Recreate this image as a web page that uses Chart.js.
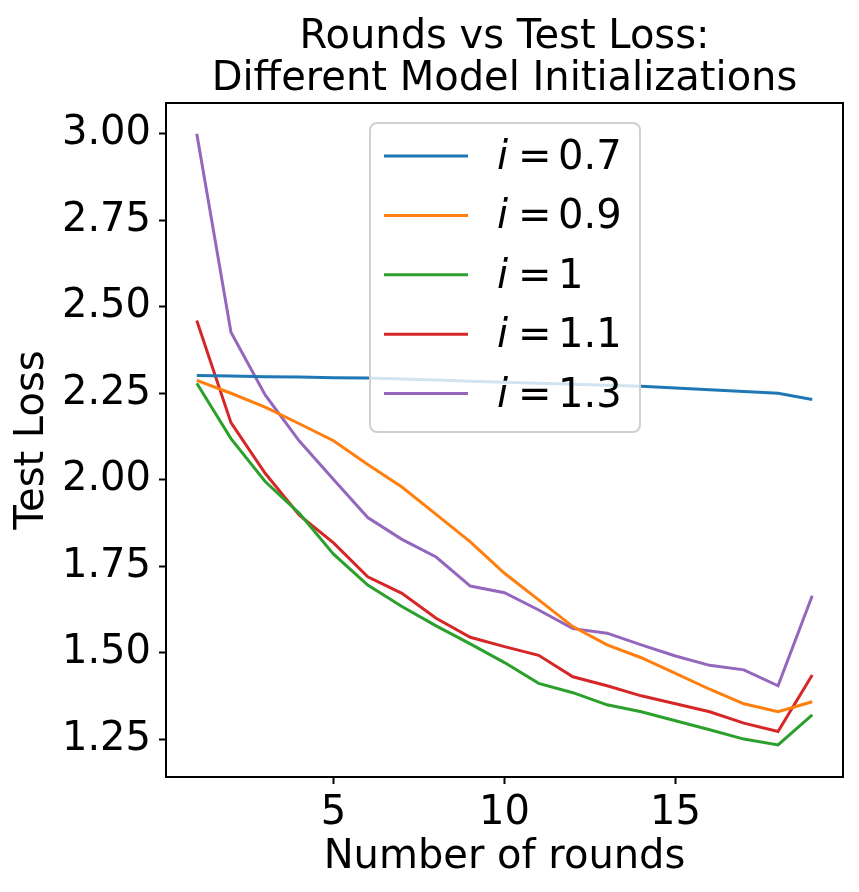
<!DOCTYPE html>
<html>
<head>
<meta charset="utf-8">
<script src="https://cdn.jsdelivr.net/npm/chart.js@4"></script>
<style>
  body { margin: 0; background: #fff; }
</style>
</head>
<body>
<canvas id="myChart" width="859" height="892"></canvas>
<script>
const rounds = [1, 2, 3, 4, 5, 6, 7, 8, 9, 10, 11, 12, 13, 14, 15, 16, 17, 18, 19];

const loss07 = [2.301, 2.300, 2.298, 2.297, 2.295, 2.294, 2.291, 2.288, 2.285, 2.282, 2.279, 2.276, 2.273, 2.270, 2.265, 2.260, 2.255, 2.250, 2.232];
const loss09 = [2.287, 2.250, 2.210, 2.162, 2.113, 2.044, 1.979, 1.900, 1.821, 1.730, 1.653, 1.576, 1.523, 1.486, 1.441, 1.395, 1.353, 1.330, 1.359];
const loss10 = [2.279, 2.119, 1.995, 1.903, 1.785, 1.696, 1.634, 1.578, 1.526, 1.472, 1.412, 1.385, 1.350, 1.330, 1.304, 1.278, 1.251, 1.234, 1.321];
const loss11 = [2.460, 2.165, 2.019, 1.898, 1.818, 1.720, 1.672, 1.600, 1.545, 1.518, 1.493, 1.431, 1.405, 1.376, 1.353, 1.330, 1.297, 1.273, 1.436];
const loss13 = [3.000, 2.426, 2.245, 2.112, 2.001, 1.891, 1.828, 1.777, 1.693, 1.674, 1.624, 1.570, 1.557, 1.523, 1.491, 1.464, 1.451, 1.405, 1.665];

const initValues = ["0.7", "0.9", "1", "1.1", "1.3"];
const xTicks = [5, 10, 15];
const yTicks = [1.25, 1.5, 1.75, 2.0, 2.25, 2.5, 2.75, 3.0];

const colors = ["#1f77b4", "#ff7f0e", "#2ca02c", "#d62728", "#9467bd"];
const series = [loss07, loss09, loss10, loss11, loss13];

const FONT = "DejaVu Sans";

// frame on all four sides, like matplotlib spines
const framePlugin = {
  id: "frame",
  afterDraw(chart) {
    const { ctx, chartArea: a } = chart;
    ctx.save();
    ctx.strokeStyle = "#000";
    ctx.lineWidth = 2;
    ctx.strokeRect(a.left, a.top, a.right - a.left, a.bottom - a.top);
    ctx.restore();
  },
};

// legend with italic "i", drawn over the lines
const legendPlugin = {
  id: "mplLegend",
  afterDatasetsDraw(chart) {
    const { ctx, chartArea: a } = chart;
    const x0 = a.left + 204, y0 = a.top + 20, w = 270, h = 309, r = 7;
    ctx.save();
    ctx.beginPath();
    ctx.roundRect(x0, y0, w, h, r);
    ctx.fillStyle = "rgba(255,255,255,0.8)";
    ctx.fill();
    ctx.strokeStyle = "#d0d0d0";
    ctx.lineWidth = 2;
    ctx.stroke();

    chart.data.datasets.forEach((ds, k) => {
      const y = y0 + 33 + k * 59.4;
      ctx.beginPath();
      ctx.moveTo(x0 + 14, y);
      ctx.lineTo(x0 + 98, y);
      ctx.strokeStyle = ds.borderColor;
      ctx.lineWidth = 3;
      ctx.stroke();

      ctx.fillStyle = "#000";
      ctx.textBaseline = "alphabetic";
      ctx.textAlign = "left";
      ctx.font = "italic 40px '" + FONT + "'";
      ctx.fillText("i", x0 + 127, y + 13);
      ctx.font = "40px '" + FONT + "'";
      ctx.fillText("=", x0 + 148, y + 13);
      ctx.fillText(initValues[k], x0 + 188, y + 13);
    });
    ctx.restore();
  },
};

new Chart(document.getElementById("myChart"), {
  type: "line",
  data: {
    datasets: series.map((vals, k) => ({
      label: "i = " + initValues[k],
      data: rounds.map((r, j) => ({ x: r, y: vals[j] })),
      borderColor: colors[k],
      backgroundColor: colors[k],
      borderWidth: 3,
      pointRadius: 0,
      tension: 0,
      fill: false,
    })),
  },
  options: {
    responsive: false,
    animation: false,
    devicePixelRatio: 1,
    layout: { padding: { left: 0, right: 16, top: 0, bottom: 0 } },
    plugins: {
      legend: { display: false },
      tooltip: { enabled: false },
      title: {
        display: true,
        fullSize: false,
        text: ["Rounds vs Test Loss:", "Different Model Initializations"],
        color: "#000",
        font: { family: FONT, size: 40, weight: "normal", lineHeight: 1.05 },
        padding: { top: 17, bottom: 2 },
      },
    },
    scales: {
      x: {
        type: "linear",
        min: 0.1,
        max: 19.9,
        afterBuildTicks: (s) => { s.ticks = xTicks.map((v) => ({ value: v })); },
        afterFit: (s) => { s.height = 115; },
        ticks: {
          color: "#000",
          font: { family: FONT, size: 40 },
          padding: 6,
          maxRotation: 0,
        },
        grid: { drawOnChartArea: false, tickLength: 7, tickColor: "#000", tickWidth: 2 },
        border: { display: false },
        title: {
          display: true,
          text: "Number of rounds",
          color: "#000",
          font: { family: FONT, size: 40 },
          padding: { top: 0, bottom: 10 },
        },
      },
      y: {
        min: 1.1415,
        max: 3.0885,
        afterBuildTicks: (s) => { s.ticks = yTicks.map((v) => ({ value: v })); },
        afterFit: (s) => { s.width = 166; },
        ticks: {
          color: "#000",
          font: { family: FONT, size: 40 },
          padding: 8,
          callback: (v) => Number(v).toFixed(2),
        },
        grid: { drawOnChartArea: false, tickLength: 7, tickColor: "#000", tickWidth: 2 },
        border: { display: false },
        title: {
          display: true,
          text: "Test Loss",
          color: "#000",
          font: { family: FONT, size: 40 },
          padding: { top: 9, bottom: 0 },
        },
      },
    },
  },
  plugins: [framePlugin, legendPlugin],
});
</script>
</body>
</html>
